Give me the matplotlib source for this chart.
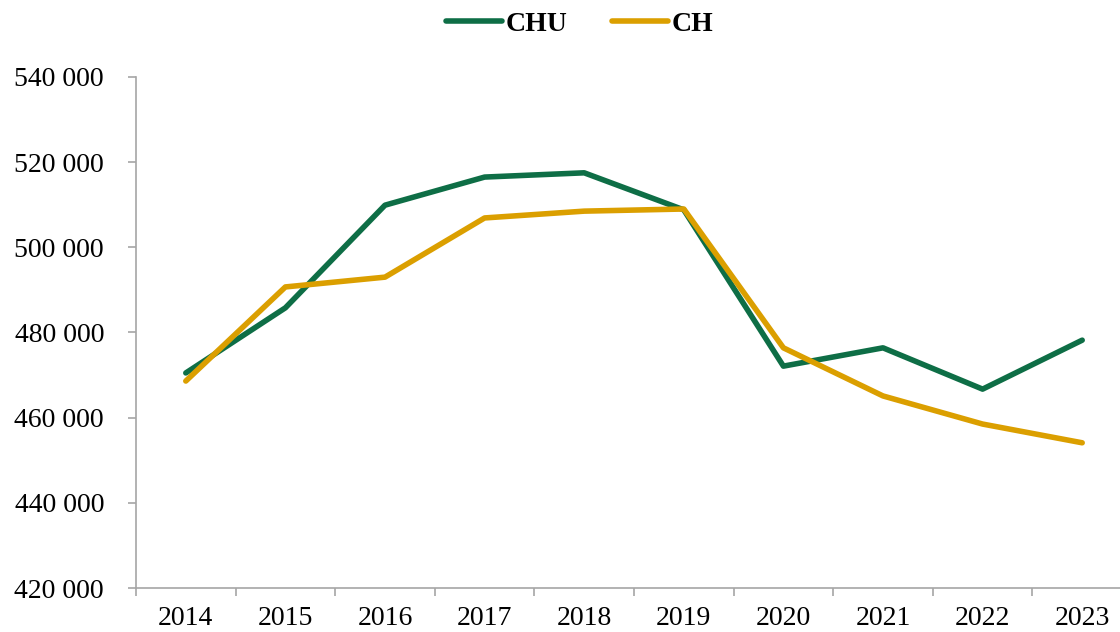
import matplotlib
matplotlib.use("Agg")
import matplotlib.pyplot as plt
from matplotlib.ticker import FuncFormatter, FixedLocator

years = ["2014", "2015", "2016", "2017", "2018", "2019", "2020", "2021", "2022", "2023"]
chu = [470500, 485800, 509900, 516500, 517500, 508800, 472100, 476400, 466700, 478200]
ch = [468600, 490700, 493000, 506900, 508500, 509000, 476400, 465100, 458500, 454100]

green = "#0E6E46"
gold = "#DB9F00"

plt.rcParams["font.family"] = ["Liberation Serif", "DejaVu Serif"]

fig = plt.figure(figsize=(11.2, 6.32), dpi=100)
ax = fig.add_axes([136 / 1120, 1 - 588 / 632, (1132 - 136) / 1120, 511 / 632])

x = list(range(len(years)))
ax.plot(x, chu, color=green, lw=4.0, label="CHU", solid_capstyle="round", solid_joinstyle="round")
ax.plot(x, ch, color=gold, lw=4.0, label="CH", solid_capstyle="round", solid_joinstyle="round")

ax.set_xlim(-0.5, len(years) - 0.5)
ax.set_ylim(420000, 540000)
ax.set_yticks(range(420000, 540001, 20000))
ax.yaxis.set_major_formatter(FuncFormatter(lambda v, p: f"{int(v):,}".replace(",", " ")))

# category labels centred, tick marks between categories
ax.set_xticks(x)
ax.set_xticklabels(years)
ax.xaxis.set_minor_locator(FixedLocator([i - 0.5 for i in range(len(years) + 1)]))
ax.tick_params(axis="x", which="major", length=0, pad=13, labelsize=20)
ax.tick_params(axis="x", which="minor", length=6, color="#A6A6A6", width=1.2)
ax.tick_params(axis="y", length=6, color="#A6A6A6", width=1.2, pad=17, labelsize=20)

for s in ["top", "right"]:
    ax.spines[s].set_visible(False)
for s in ["left", "bottom"]:
    ax.spines[s].set_color("#A6A6A6")
    ax.spines[s].set_linewidth(1.2)

leg = fig.legend(loc="center", bbox_to_anchor=(580 / 1120, 1 - 24 / 632), ncol=2, frameon=False,
                 prop={"weight": "bold", "size": 20}, handlelength=2.0, handletextpad=0.15,
                 columnspacing=1.6)

fig.savefig("out.png", dpi=100)
